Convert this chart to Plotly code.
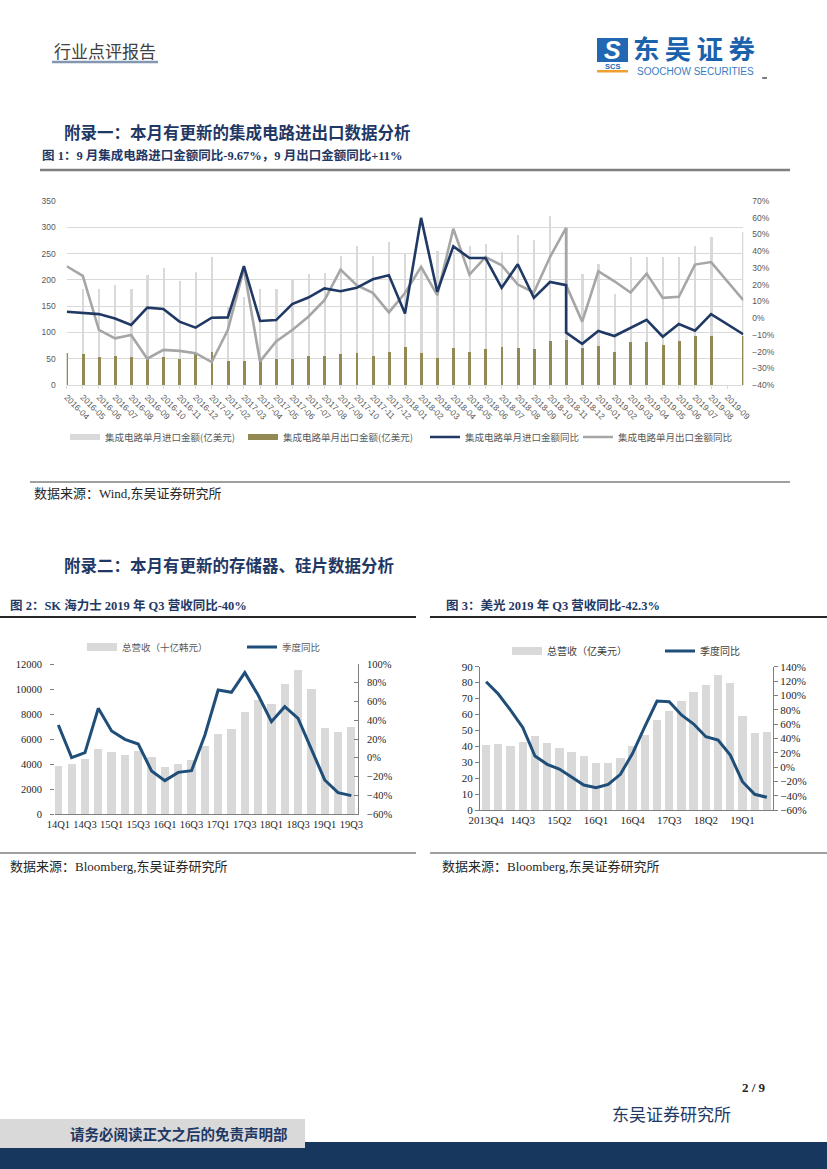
import plotly.graph_objects as go

W, H = 827, 1169


def X(px):
    return px / W


def Y(py):
    return 1 - py / H


# ---------------- chart 1 data (IC import / export) ----------------
months = ["2016-04", "2016-05", "2016-06", "2016-07", "2016-08", "2016-09", "2016-10", "2016-11", "2016-12",
          "2017-01", "2017-02", "2017-03", "2017-04", "2017-05", "2017-06", "2017-07", "2017-08", "2017-09",
          "2017-10", "2017-11", "2017-12",
          "2018-01", "2018-02", "2018-03", "2018-04", "2018-05", "2018-06", "2018-07", "2018-08", "2018-09",
          "2018-10", "2018-11", "2018-12",
          "2019-01", "2019-02", "2019-03", "2019-04", "2019-05", "2019-06", "2019-07", "2019-08", "2019-09"]

ic_import = [None, 183, 182, 190, 182, 210, 223, 197, 215, 243, 150, 168, 182, 182, 199, 212, 214, 245,
             264, 245, 272, 250, 225, 255, 255, 265, 269, 253, 286, 275, 321, 299, 212, 231, 174, 243,
             243, 243, 243, 264, 281, None, 291]
ic_export = [60.5, 58.6, 54.2, 56.1, 54.2, 51, 53, 50, 58.5, 63.4, 46.6, 46.6, 47, 48.6, 48.6, 54.3, 56,
             59.2, 60.4, 56, 62.2, 72, 60.3, 52, 69.8, 63.4, 67.9, 72.9, 71, 68.5, 84.3, 85.6, 70, 75,
             63.7, 81.3, 81.3, 76.3, 84.5, 94, 94, None, 94]
ic_slot = list(range(len(ic_import)))

ic_import_yoy = [3.8, 3.0, 2.4, -0.2, -4.1, 6.2, 5.4, -2.1, -5.7, 0.2, 0.4, 31.0, -1.7, -1.2, 8.4, 12.3,
                 17.7, 16.1, 18.1, 23.2, 25.6, 2.8, 59.9, 15.7, 42.9, 35.9, 35.9, 18.1, 32.2, 12.1, 21.6,
                 19.7, -8.7, -15.4, -7.7, -10.7, -5.7, -1.1, -11.1, -3.5, -7.5, 2.4, -9.67]
ic_export_yoy = [31.0, 25.2, -7.1, -12.1, -10.1, -24.3, -19.0, -19.6, -21.0, -26.3, -7.1, 29.6, -25.9,
                 -14.0, -7.1, 0.8, 10.7, 29.0, 19.7, 15.1, 3.4, 15.0, 30.6, 13.7, 53.4, 26.0, 36.5, 31.6,
                 20.1, 15.3, 36.5, 54.0, 19.7, -2.1, 28.0, 22.0, 15.3, 26.6, 12.1, 12.7, 32.0, 33.5, 10.7]
yoy_slot = ic_slot[:32] + [31] + ic_slot[32:41] + [42]

# ---------------- chart 2 data (SK hynix) ----------------
sk_quarters = ["14Q1", "14Q2", "14Q3", "14Q4", "15Q1", "15Q2", "15Q3", "15Q4", "16Q1", "16Q2", "16Q3",
               "16Q4", "17Q1", "17Q2", "17Q3", "17Q4", "18Q1", "18Q2", "18Q3", "18Q4", "19Q1", "19Q2",
               "19Q3"]
sk_revenue = [3840, 4000, 4400, 5170, 4930, 4720, 5010, 4590, 3730, 4000, 4320, 5440, 6400, 6800, 8160,
              9120, 8800, 10370, 11520, 10000, 6850, 6530, 6960]
sk_yoy = [34.9, 0.1, 5.4, 52.7, 28.5, 19.6, 14.7, -14.1, -24.4, -15.6, -13.8, 24.0, 72.3, 69.8, 90.8,
          66.9, 38.5, 54.5, 42.0, 10.0, -23.7, -37.2, -40.4]

# ---------------- chart 3 data (Micron) ----------------
mu_quarters = ["2013Q4", "14Q1", "14Q2", "14Q3", "14Q4", "15Q1", "15Q2", "15Q3", "15Q4", "16Q1", "16Q2",
               "16Q3", "16Q4", "17Q1", "17Q2", "17Q3", "17Q4", "18Q1", "18Q2", "18Q3", "18Q4", "19Q1",
               "19Q2", "19Q3"]
mu_revenue = [40.8, 41.9, 40.6, 42.9, 46.5, 42.3, 39.3, 36.8, 34.3, 29.9, 29.9, 33.1, 40.4, 47.1, 56.5,
              62.2, 68.6, 74.3, 78.5, 85.2, 79.9, 59.0, 48.6, 49.2]
mu_yoy = [119, 101.9, 79.5, 55.3, 15.3, 3.7, -2.8, -13.5, -25.1, -28.8, -24.2, -10.2, 19.1, 56.3, 92.1,
          91.2, 72.6, 60.0, 42.3, 37.7, 16.7, -20.5, -38.1, -42.3]

NAVY = "#1f3864"
LBLUE = "#1f4e79"
LGRAY = "#d9d9d9"
OLIVE = "#938953"
MGRAY = "#a6a6a6"
SANS = "Liberation Sans, Noto Sans CJK SC"
SERIF = "Liberation Serif, Noto Sans CJK SC"
CJK = "Noto Sans CJK SC"

fig = go.Figure()

# ---- chart 1 traces ----
fig.add_trace(go.Bar(x=ic_slot, y=ic_import, width=0.14, marker=dict(color=LGRAY, line=dict(width=0)),
                     xaxis="x", yaxis="y", showlegend=False, name="集成电路单月进口金额(亿美元)"))
fig.add_trace(go.Bar(x=ic_slot, y=ic_export, width=0.18, marker=dict(color=OLIVE, line=dict(width=0)),
                     xaxis="x", yaxis="y", showlegend=False, name="集成电路单月出口金额(亿美元)"))
fig.add_trace(go.Scatter(x=yoy_slot, y=ic_export_yoy, mode="lines", line=dict(color=MGRAY, width=2.6),
                         xaxis="x", yaxis="y2", showlegend=False, name="集成电路单月出口金额同比"))
fig.add_trace(go.Scatter(x=yoy_slot, y=ic_import_yoy, mode="lines", line=dict(color=NAVY, width=2.6),
                         xaxis="x", yaxis="y2", showlegend=False, name="集成电路单月进口金额同比"))

# legend entries chart 1
leg1 = [("集成电路单月进口金额(亿美元)", LGRAY, 6, "legend"),
        ("集成电路单月出口金额(亿美元)", OLIVE, 6, "legend2"),
        ("集成电路单月进口金额同比", NAVY, 2.6, "legend3"),
        ("集成电路单月出口金额同比", MGRAY, 2.6, "legend4")]
for name, col, wd, lg in leg1:
    fig.add_trace(go.Scatter(x=[None], y=[None], mode="lines", line=dict(color=col, width=wd), name=name,
                             xaxis="x", yaxis="y", legend=lg, showlegend=True))

# ---- chart 2 traces ----
fig.add_trace(go.Bar(x=sk_quarters, y=sk_revenue, width=0.62, marker=dict(color=LGRAY, line=dict(width=0)),
                     xaxis="x2", yaxis="y3", showlegend=False, name="总营收（十亿韩元）"))
fig.add_trace(go.Scatter(x=sk_quarters, y=sk_yoy, mode="lines", line=dict(color=LBLUE, width=3),
                         xaxis="x2", yaxis="y4", showlegend=False, name="季度同比"))
fig.add_trace(go.Scatter(x=[None], y=[None], mode="lines", line=dict(color=LGRAY, width=8),
                         name="总营收（十亿韩元）", xaxis="x2", yaxis="y3", legend="legend5"))
fig.add_trace(go.Scatter(x=[None], y=[None], mode="lines", line=dict(color=LBLUE, width=3),
                         name="季度同比", xaxis="x2", yaxis="y3", legend="legend6"))

# ---- chart 3 traces ----
fig.add_trace(go.Bar(x=mu_quarters, y=mu_revenue, width=0.68, marker=dict(color=LGRAY, line=dict(width=0)),
                     xaxis="x3", yaxis="y5", showlegend=False, name="总营收（亿美元）"))
fig.add_trace(go.Scatter(x=mu_quarters, y=mu_yoy, mode="lines", line=dict(color=LBLUE, width=3),
                         xaxis="x3", yaxis="y6", showlegend=False, name="季度同比"))
fig.add_trace(go.Scatter(x=[None], y=[None], mode="lines", line=dict(color=LGRAY, width=8),
                         name="总营收（亿美元）", xaxis="x3", yaxis="y5", legend="legend7"))
fig.add_trace(go.Scatter(x=[None], y=[None], mode="lines", line=dict(color=LBLUE, width=3),
                         name="季度同比", xaxis="x3", yaxis="y5", legend="legend8"))


def legend_at(text_x, y, size, color):
    return dict(x=X(text_x - 40), y=Y(y), xanchor="left", yanchor="middle", orientation="h",
                bgcolor="rgba(0,0,0,0)", borderwidth=0, itemwidth=30,
                font=dict(family=CJK, size=size, color=color))


layout = dict(
    width=W, height=H, margin=dict(l=0, r=0, t=0, b=0, autoexpand=False), autosize=False,
    paper_bgcolor="white", plot_bgcolor="white", barmode="overlay", bargap=0,
    legend=legend_at(105, 437, 9.5, "#595959"),
    legend2=legend_at(283, 437, 9.5, "#595959"),
    legend3=legend_at(465, 437, 9.5, "#595959"),
    legend4=legend_at(618, 437, 9.5, "#595959"),
    legend5=legend_at(122, 647, 9.5, "#595959"),
    legend6=legend_at(282, 647, 9.5, "#595959"),
    legend7=legend_at(547, 651, 10, "#404040"),
    legend8=legend_at(700, 651, 10, "#404040"),
    # chart 1
    xaxis=dict(domain=[X(66.7), X(743.3)], anchor="y", range=[0, 42], automargin=False,
               tickmode="array", tickvals=list(range(len(months))), ticktext=months, tickangle=45,
               tickfont=dict(family=SANS, size=8.5, color="#595959"),
               ticks="outside", ticklen=3, tickcolor=LGRAY, showline=True, linecolor=LGRAY,
               showgrid=False, zeroline=False),
    yaxis=dict(domain=[Y(385), Y(201)], anchor="x", range=[0, 350], dtick=50, automargin=False,
               tickfont=dict(family=SANS, size=8.5, color="#595959"), showgrid=True, gridcolor=LGRAY,
               gridwidth=1, zeroline=False, showline=False, ticklabelstandoff=10),
    yaxis2=dict(overlaying="y", anchor="x", side="right", range=[-40, 70], dtick=10, ticksuffix="%",
                automargin=False,
                tickfont=dict(family=SANS, size=8.5, color="#595959"), showgrid=False, zeroline=False,
                showline=False, ticklabelstandoff=8),
    # chart 2
    xaxis2=dict(domain=[X(55), X(358)], anchor="y3", type="category", range=[-0.25, 22.5],
                automargin=False,
                tickmode="array", tickvals=sk_quarters[::2], ticktext=sk_quarters[::2], tickangle=0,
                tickfont=dict(family=SERIF, size=10.5, color="#262626"), showline=True,
                linecolor="#7f7f7f", linewidth=1, ticks="", showgrid=False, zeroline=False),
    yaxis3=dict(domain=[Y(814), Y(664)], anchor="x2", range=[0, 12000], dtick=2000, tickformat="d",
                automargin=False,
                tickfont=dict(family=SERIF, size=10.5, color="#262626"), showgrid=False, zeroline=False,
                showline=False, ticks="outside", ticklen=4, tickcolor="#7f7f7f", ticklabelstandoff=6),
    yaxis4=dict(overlaying="y3", anchor="x2", side="right", range=[-60, 100], dtick=20, ticksuffix="%",
                automargin=False,
                tickfont=dict(family=SERIF, size=10.5, color="#262626"), showgrid=False, zeroline=False,
                showline=True, linecolor="#7f7f7f", ticks="inside", ticklen=4, tickcolor="#7f7f7f",
                ticklabelstandoff=6),
    # chart 3
    xaxis3=dict(domain=[X(480), X(773)], anchor="y5", type="category", range=[-0.5, 23.5],
                automargin=False,
                tickmode="array", tickvals=mu_quarters[::3], ticktext=mu_quarters[::3], tickangle=0,
                tickfont=dict(family=SERIF, size=11, color="#262626"), showline=True,
                linecolor="#7f7f7f", ticks="", showgrid=False, zeroline=False),
    yaxis5=dict(domain=[Y(810), Y(666.7)], anchor="x3", range=[0, 90], dtick=10, automargin=False,
                tickfont=dict(family=SERIF, size=11, color="#262626"), showgrid=False, zeroline=False,
                showline=True, linecolor="#7f7f7f", ticks="outside", ticklen=4, tickcolor="#7f7f7f"),
    yaxis6=dict(overlaying="y5", anchor="x3", side="right", range=[-60, 140], dtick=20, ticksuffix="%",
                automargin=False,
                tickfont=dict(family=SERIF, size=11, color="#262626"), showgrid=False, zeroline=False,
                showline=True, linecolor="#7f7f7f", ticks="outside", ticklen=4, tickcolor="#7f7f7f"),
)
fig.update_layout(**layout)

# ---------------- page decorations ----------------
shapes = []


def hline(x0, x1, y, color, width):
    shapes.append(dict(type="line", xref="paper", yref="paper", x0=X(x0), x1=X(x1), y0=Y(y), y1=Y(y),
                       line=dict(color=color, width=width)))


def rect(x0, x1, y0, y1, color):
    shapes.append(dict(type="rect", xref="paper", yref="paper", x0=X(x0), x1=X(x1), y0=Y(y1), y1=Y(y0),
                       fillcolor=color, line=dict(width=0), layer="below"))


hline(52, 158, 62, "#8497b0", 2.5)
hline(40, 790, 170, "#7f7f7f", 2.5)
hline(30, 790, 482, "#404040", 1)
hline(0, 416, 617, "#262626", 2)
hline(430, 827, 617, "#262626", 2)
hline(0, 416, 853, "#404040", 1)
hline(430, 827, 853, "#404040", 1)
hline(762, 767, 78, "#262626", 1.2)
# logo
rect(597, 628, 38, 62, "#2267b2")
rect(597, 628, 70, 72.5, "#f0a030")
# footer
rect(0, 827, 1142, 1169, "#17375e")
rect(0, 305, 1119, 1148, "#d9d9d9")
fig.update_layout(shapes=shapes)

ann = []


def txt(s, x, y, size, color, family=CJK, bold=False, xanchor="left", italic=False):
    ann.append(dict(text=s, x=X(x), y=Y(y), xref="paper", yref="paper", showarrow=False,
                    xanchor=xanchor, yanchor="middle",
                    font=dict(family=family, size=size, color=color,
                              weight="bold" if bold else "normal",
                              style="italic" if italic else "normal")))


txt("行业点评报告", 52, 51, 17, "#404040")
txt("S", 612.5, 50, 25, "white", family="Liberation Sans", bold=True, xanchor="center", italic=True)
txt("SCS", 612.5, 66, 7.5, "#2267b2", family="Liberation Sans", bold=True, xanchor="center")
txt("东\u2009吴\u2009证\u2009券", 631, 47.5, 26.5, "#1b62ad", bold=True)
txt("SOOCHOW SECURITIES", 635, 71.5, 10, "#3a7cc0", family="Liberation Sans")

txt("附录一：本月有更新的集成电路进出口数据分析", 62, 133, 16.5, NAVY, family=SERIF, bold=True)
txt("图 1：9 月集成电路进口金额同比-9.67%，9 月出口金额同比+11%", 40, 155, 12.5, NAVY,
    family=SERIF, bold=True)
txt("数据来源：Wind,东吴证券研究所", 32, 493, 13, "#262626", family=SERIF)
txt("附录二：本月有更新的存储器、硅片数据分析", 62, 566, 16.5, NAVY, family=SERIF, bold=True)
txt("图 2：SK 海力士 2019 年 Q3 营收同比-40%", 8, 605, 12.5, NAVY, family=SERIF, bold=True)
txt("图 3：美光 2019 年 Q3 营收同比-42.3%", 444, 605, 12.5, NAVY, family=SERIF, bold=True)
txt("数据来源：Bloomberg,东吴证券研究所", 8, 866, 13, "#262626", family=SERIF)
txt("数据来源：Bloomberg,东吴证券研究所", 440, 866, 13, "#262626", family=SERIF)
txt("2 / 9", 768, 1087, 13, "#262626", family="Liberation Serif", bold=True, xanchor="right")
txt("东吴证券研究所", 610, 1113, 17, NAVY)
txt("请务必阅读正文之后的免责声明部", 68, 1133, 14.5, NAVY, bold=True)
fig.update_layout(annotations=ann)

fig.write_html("out.html", config={"displayModeBar": False},
               post_script="document.body.style.margin='0';document.body.style.padding='0';"
                           "document.documentElement.style.overflow='hidden';")
